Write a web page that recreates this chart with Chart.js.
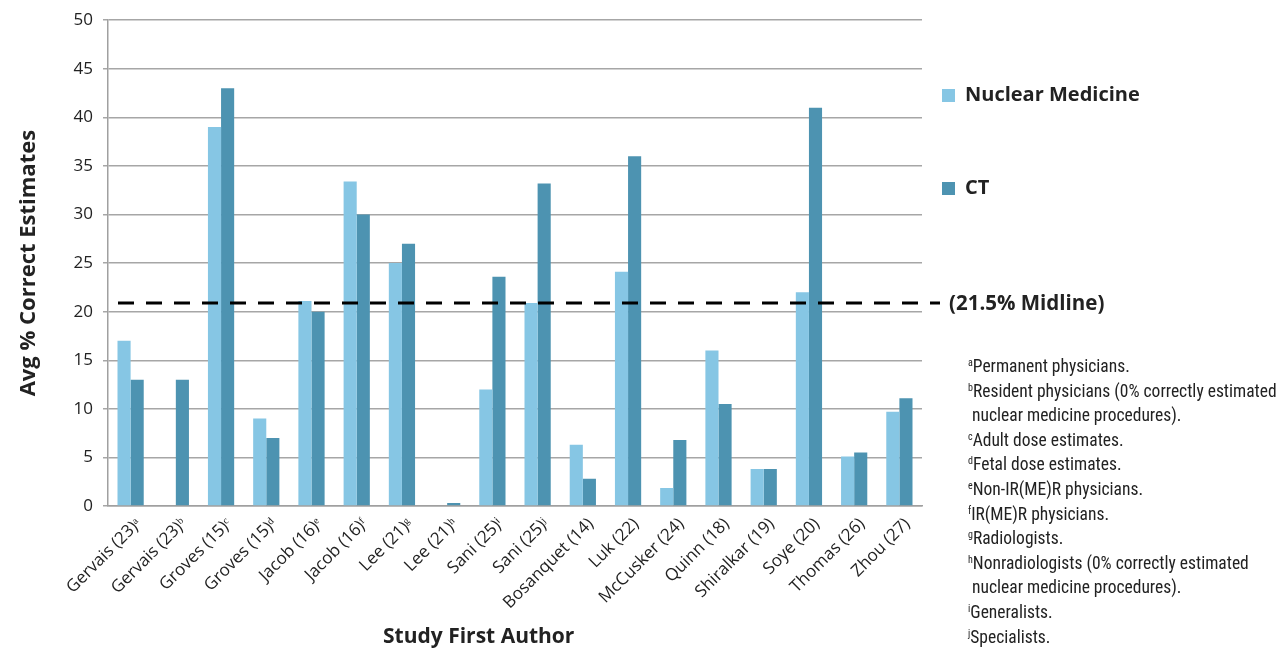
<!DOCTYPE html>
<html>
<head>
<meta charset="utf-8">
<script src="https://cdn.jsdelivr.net/npm/chart.js@4/dist/chart.umd.min.js"></script>
<style>
  body { margin: 0; background: #fff; }
  #wrap { position: relative; width: 1285px; height: 660px; }
  #myChart { position: absolute; left: 0; top: 0; }
  .legend { position: absolute; left: 942px; font: bold 20px "Open Sans", sans-serif; color: #222; }
  .legend span { display: inline-block; width: 13px; height: 13px; margin-right: 10px; vertical-align: -1px; }
  #xtitle { position: absolute; left: 383px; top: 621px; font: bold 21px "Open Sans", sans-serif; color: #222; }
  #midlabel { position: absolute; left: 949px; top: 288px; font: bold 20.5px "Open Sans", sans-serif; color: #222; }
  #notes { position: absolute; left: 968px; top: 354px; font: 17.5px "Liberation Sans Narrow", "Roboto Condensed", sans-serif; color: #222; line-height: 24.6px; white-space: nowrap; }
  #notes sup { font-size: 10px; vertical-align: 6px; line-height: 0; }
</style>
</head>
<body>
<div id="wrap">
  <canvas id="myChart" width="1285" height="660"></canvas>
  <div class="legend" id="leg0" style="top:80px"></div>
  <div class="legend" id="leg1" style="top:173px"></div>
  <div id="midlabel"></div>
  <div id="xtitle">Study First Author</div>
  <div id="notes">
    <sup>a</sup>Permanent physicians.<br>
    <sup>b</sup>Resident physicians (0% correctly estimated<br>
    &nbsp;nuclear medicine procedures).<br>
    <sup>c</sup>Adult dose estimates.<br>
    <sup>d</sup>Fetal dose estimates.<br>
    <sup>e</sup>Non-IR(ME)R physicians.<br>
    <sup>f</sup>IR(ME)R physicians.<br>
    <sup>g</sup>Radiologists.<br>
    <sup>h</sup>Nonradiologists (0% correctly estimated<br>
    &nbsp;nuclear medicine procedures).<br>
    <sup>i</sup>Generalists.<br>
    <sup>j</sup>Specialists.
  </div>
</div>
<script>
let authors = [
  "Gervais (23)ᵃ", "Gervais (23)ᵇ", "Groves (15)ᶜ", "Groves (15)ᵈ", "Jacob (16)ᵉ",
  "Jacob (16)ᶠ", "Lee (21)ᵍ", "Lee (21)ʰ", "Sani (25)ⁱ", "Sani (25)ʲ",
  "Bosanquet (14)", "Luk (22)", "McCusker (24)", "Quinn (18)", "Shiralkar (19)",
  "Soye (20)", "Thomas (26)", "Zhou (27)"
];
let nuclear = [17, 0, 39, 9, 21.1, 33.4, 25, 0, 12, 20.9, 6.3, 24.1, 1.85, 16, 3.8, 22, 5.1, 9.7];
let ct = [13, 13, 43, 7, 20, 30, 27, 0.3, 23.6, 33.2, 2.8, 36, 6.8, 10.5, 3.8, 41, 5.5, 11.1];
let midline = 20.9;
let midlineText = "(21.5% Midline)";

const lightBlue = "#86c6e4";
const darkBlue = "#4d93b1";

const midlinePlugin = {
  id: "midline",
  afterDatasetsDraw(chart) {
    const c = chart.ctx;
    const y = chart.scales.y.getPixelForValue(midline);
    c.save();
    c.strokeStyle = "#000";
    c.lineWidth = 3;
    c.setLineDash([16, 12]);
    c.beginPath();
    c.moveTo(118, y);
    c.lineTo(940, y);
    c.stroke();
    c.restore();
  }
};

const ctx = document.getElementById("myChart");

let ch = new Chart(ctx, {
  type: "bar",
  data: {
    labels: authors,
    datasets: [
      { label: "Nuclear Medicine", data: nuclear, backgroundColor: lightBlue, categoryPercentage: 0.58, barPercentage: 1 },
      { label: "CT", data: ct, backgroundColor: darkBlue, categoryPercentage: 0.58, barPercentage: 1 },
    ],
  },
  plugins: [midlinePlugin],
  options: {
    responsive: false,
    animation: false,
    layout: { padding: { left: 0, top: 20, right: 363, bottom: 0 } },
    plugins: { legend: { display: false }, tooltip: { enabled: false } },
    scales: {
      x: {
        grid: { display: false, drawTicks: false },
        border: { color: "#a0a0a0", width: 1.5 },
        ticks: { maxRotation: 45, minRotation: 45, autoSkip: false, color: "#222", padding: 8, labelOffset: 8, font: { family: "Open Sans", size: 17 } },
        afterFit(scale) { scale.height = 154; },
      },
      y: {
        min: 0,
        max: 50,
        ticks: { stepSize: 5, color: "#222", padding: 10, font: { family: "Open Sans", size: 17 } },
        grid: { color: "#a6a6a6", lineWidth: 1.5, tickLength: 5 },
        border: { color: "#a0a0a0", width: 1.5 },
        title: { display: true, text: "Avg % Correct Estimates", color: "#222", font: { family: "Open Sans", size: 22, weight: "bold" }, padding: { top: 16, bottom: 4 } },
        afterFit(scale) { scale.width = 108; },
      },
    },
  },
});

ch.data.datasets.forEach(function (ds, i) {
  document.getElementById("leg" + i).innerHTML = '<span style="background:' + ds.backgroundColor + '"></span>' + ds.label;
});
document.getElementById("midlabel").textContent = midlineText;
</script>
</body>
</html>
